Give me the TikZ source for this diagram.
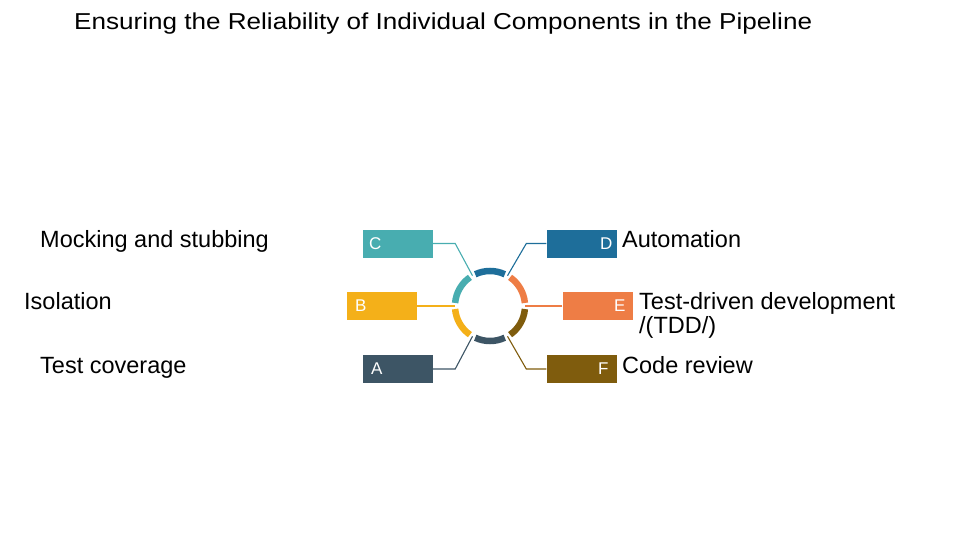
\documentclass[tikz,border=0pt]{standalone}
\usepackage{fontspec}
\setmainfont{Liberation Sans}
\definecolor{colA}{HTML}{3D5565}
\definecolor{colB}{HTML}{F4B019}
\definecolor{colC}{HTML}{48ADB0}
\definecolor{colD}{HTML}{1E6E9A}
\definecolor{colE}{HTML}{EE7D45}
\definecolor{colF}{HTML}{7F5C0D}
\begin{document}
\begin{tikzpicture}[
  x=1pt,y=1pt,
  box/.style={rectangle,draw=none,minimum width=70pt,minimum height=28pt,inner sep=0pt},  letter/.style={text=white,inner sep=0pt,font=\fontsize{17}{19}\selectfont},  lbl/.style={anchor=base west,inner sep=0pt,align=left,font=\fontsize{23.5}{24}\selectfont},  arcseg/.style={line width=6.5pt},  link/.style={line width=1.1pt}
]
  \useasboundingbox (0,0) rectangle (980,550);
  \node[lbl,font=\fontsize{23}{24}\selectfont] (title) at (74,520.5) {\scalebox{1.134}[1]{Ensuring the Reliability of Individual Components in the Pipeline}};
  \node[circle,minimum size=70pt,inner sep=0pt,outer sep=0pt] (ring) at (490,244) {};
  \draw[arcseg,colD] (ring.65) arc[start angle=65,end angle=115,radius=35pt];
  \draw[arcseg,colC] (ring.125) arc[start angle=125,end angle=175,radius=35pt];
  \draw[arcseg,colB] (ring.185) arc[start angle=185,end angle=235,radius=35pt];
  \draw[arcseg,colA] (ring.245) arc[start angle=245,end angle=295,radius=35pt];
  \draw[arcseg,colF] (ring.305) arc[start angle=305,end angle=355,radius=35pt];
  \draw[arcseg,colE] (ring.5) arc[start angle=5,end angle=55,radius=35pt];
  \node[box,fill=colC] (bC) at (398,306.5) {};
  \node[box,fill=colD] (bD) at (581.5,306.5) {};
  \node[box,fill=colB] (bB) at (382,244) {};
  \node[box,fill=colE] (bE) at (597.5,244) {};
  \node[box,fill=colA] (bA) at (398,181) {};
  \node[box,fill=colF] (bF) at (581.5,181) {};
  \node[letter,anchor=west] (tC) at ([xshift=6pt]bC.west) {C};
  \node[letter,anchor=east] (tD) at ([xshift=-4pt]bD.east) {D};
  \node[letter,anchor=west] (tB) at ([xshift=8pt]bB.west) {B};
  \node[letter,anchor=east] (tE) at ([xshift=-7pt]bE.east) {E};
  \node[letter,anchor=west] (tA) at ([xshift=8pt]bA.west) {A};
  \node[letter,anchor=east] (tF) at ([xshift=-8pt]bF.east) {F};
  \draw[link,colC] (bC.east) -- ++(22,0) -- (ring.120);
  \draw[link,colD] (bD.west) -- ++(-20,0) -- (ring.60);
  \draw[link,colB] (bB.east) -- (ring.180);
  \draw[link,colE] (bE.west) -- (ring.0);
  \draw[link,colA] (bA.east) -- ++(22,0) -- (ring.240);
  \draw[link,colF] (bF.west) -- ++(-20,0) -- (ring.300);
  \node[lbl] (mock) at (40,303) {Mocking and stubbing};
  \node[lbl] (iso) at (24,241) {Isolation};
  \node[lbl] (cov) at (40,177) {Test coverage};
  \node[lbl] (auto) at (622,303) {Automation};
  \node[lbl] (tdd) at (639,217) {Test-driven development\\/(TDD/)};
  \node[lbl] (rev) at (622,177) {Code review};
\end{tikzpicture}
\end{document}
